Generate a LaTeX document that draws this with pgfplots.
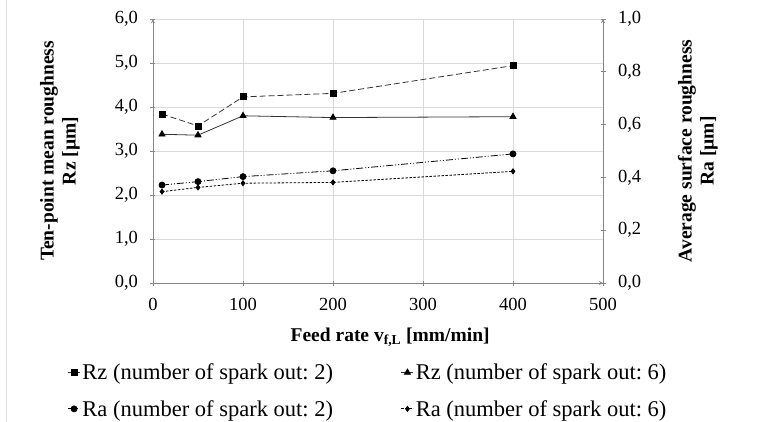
\documentclass[border=0pt]{standalone}
\usepackage{fontspec}
\setmainfont{Liberation Serif}
\usepackage{pgfplots}
\pgfplotsset{compat=1.18}
\frenchspacing
\newcommand\tickfont{\fontsize{18.5bp}{20bp}\selectfont}
\newcommand\labfont{\fontsize{19.5bp}{22bp}\selectfont\bfseries}
\newcommand\legfont{\fontsize{22.5bp}{26bp}\selectfont}
\definecolor{axgray}{HTML}{868686}
\definecolor{gridgray}{HTML}{D9D9D9}
\pgfplotsset{
  common/.style={
    width=450bp, height=264bp, scale only axis,
    xmin=0, xmax=500,
    axis line style={-, draw=axgray, line width=0.9bp},
    tick style={draw=axgray, line width=0.8bp},
    major tick length=5bp, tick align=outside,
    ticklabel style={font=\tickfont},
    /pgf/number format/assume math mode=true,
  },
  ynum/.style={
    yticklabel style={/pgf/number format/fixed, /pgf/number format/fixed zerofill,
      /pgf/number format/precision=1, /pgf/number format/use comma},
  },
  legend image code/.code={\draw[mark repeat=2,mark phase=2,#1] plot coordinates {(0bp,0bp) (6bp,0bp) (12bp,0bp)};},
}
\begin{document}
\begin{tikzpicture}
\useasboundingbox (-153bp,-139bp) rectangle (611bp,283bp);
\draw[color=black!12, line width=0.8bp] (-147bp,-139bp) -- (-147bp,283bp);
\begin{axis}[common, ynum,
  ymin=0, ymax=6,
  xtick={0,100,200,300,400,500}, ytick={0,1,2,3,4,5,6},
  axis x line=bottom, axis y line=left,
  grid=major, grid style={gridgray, line width=0.6bp},
  xticklabel style={yshift=-9bp},
  yticklabel style={xshift=-9bp},
  xlabel={Feed rate v\textsubscript{f,L} [mm/min]},
  ylabel={Ten-point mean roughness\\Rz [µm]},
  xlabel style={at={(axis description cs:0.527,-0.205)}, anchor=center, font=\labfont},
  ylabel style={at={(axis description cs:-0.207,0.5)}, anchor=center, font=\labfont, align=center},
  legend columns=2,
  legend cell align=left,
  legend style={at={(axis description cs:-0.19,-0.298)}, anchor=north west,
    draw=none, fill=none, font=\legfont, inner sep=0pt, row sep=15bp,
    /tikz/every even column/.append style={column sep=66bp}},
]
\addplot[color=black!80, line width=0.8bp, dash pattern=on 6bp off 3bp,
  mark=square*, mark size=3bp, mark options={solid, fill=black, draw=black}]
  coordinates {(10,3.84) (50,3.57) (100,4.23) (200,4.31) (400,4.94)};
\addlegendentry{Rz (number of spark out: 2)}
\addplot[color=black!80, line width=0.8bp, solid,
  mark=triangle*, mark size=3.5bp, mark options={solid, fill=black, draw=black}]
  coordinates {(10,3.38) (50,3.36) (100,3.80) (200,3.76) (400,3.78)};
\addlegendentry{Rz (number of spark out: 6)}
\addlegendimage{color=black, line width=0.8bp, dash pattern=on 7bp off 2bp on 1bp off 2bp on 1bp off 2bp,
  mark=*, mark size=3bp, mark options={solid, fill=black}}
\addlegendentry{Ra (number of spark out: 2)}
\addlegendimage{color=black, line width=0.8bp, dash pattern=on 2.5bp off 1.5bp,
  mark=diamond*, mark size=2.5bp, mark options={solid, fill=black}}
\addlegendentry{Ra (number of spark out: 6)}
\end{axis}
\begin{axis}[common, ynum,
  ymin=0, ymax=1,
  ytick={0,0.2,0.4,0.6,0.8,1},
  axis x line=none, axis y line=right,
  yticklabel style={xshift=9bp},
  ylabel={Average surface roughness\\Ra [µm]},
  ylabel style={at={(axis description cs:1.211,0.5)}, anchor=center, rotate=0, font=\labfont, align=center},
]
\addplot[color=black, line width=0.8bp, dash pattern=on 7bp off 2bp on 1bp off 2bp on 1bp off 2bp,
  mark=*, mark size=3bp, mark options={solid, fill=black}]
  coordinates {(10,0.371) (50,0.384) (100,0.403) (200,0.425) (400,0.489)};
\addplot[color=black, line width=0.8bp, dash pattern=on 2.5bp off 1.5bp,
  mark=diamond*, mark size=2.5bp, mark options={solid, fill=black}]
  coordinates {(10,0.346) (50,0.362) (100,0.378) (200,0.381) (400,0.423)};
\end{axis}
\end{tikzpicture}
\end{document}
